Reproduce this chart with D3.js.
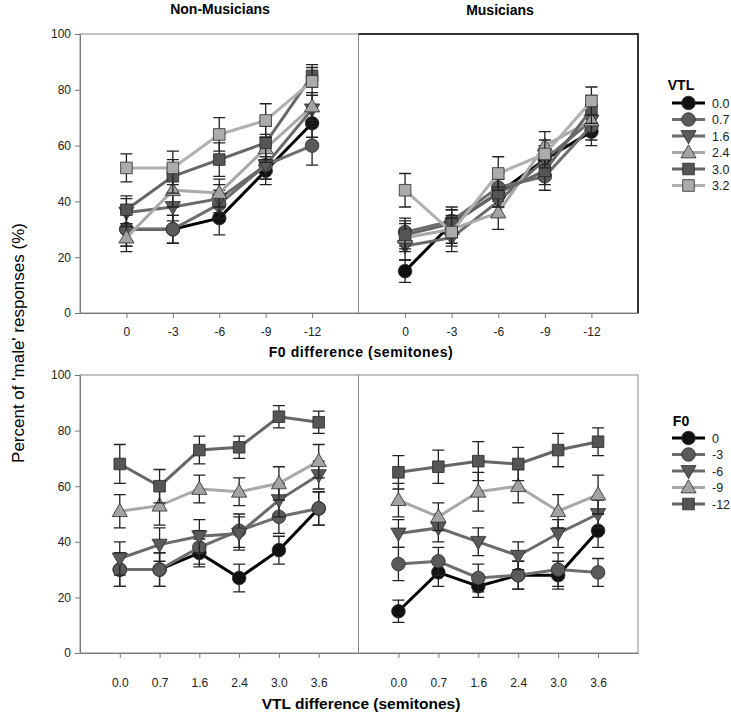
<!DOCTYPE html>
<html><head><meta charset="utf-8">
<script src="https://cdn.jsdelivr.net/npm/d3@7"></script>
<style>body{margin:0;background:#fff}svg{display:block}</style>
</head><body><svg id="c" width="731" height="713"></svg>
<script>
const f0Cats = ["0","-3","-6","-9","-12"];
const vtlCats = ["0.0","0.7","1.6","2.4","3.0","3.6"];
const vtlSeries = ["0.0","0.7","1.6","2.4","3.0","3.2"];
const f0Series = ["0","-3","-6","-9","-12"];
const yTicks = [0,20,40,60,80,100];

const topNonMus = [[30,30,34,51,68],[30,30,39,53,60],[36,38,41,53,73],[27,44,43,59,74],[37,49,55,61,85],[52,52,64,69,83]];
const topNonMusErr = [[6,5,6,5,5],[6,5,5,5,7],[5,5,5,5,5],[5,6,5,5,5],[5,6,6,6,4],[5,6,6,6,5]];
const topMus = [[15,32,43,55,65],[29,33,45,49,67],[24,27,40,55,69],[27,30,36,60,69],[28,32,43,51,73],[44,29,50,57,76]];
const topMusErr = [[4,5,5,5,5],[5,5,5,5,5],[5,5,5,5,5],[5,5,6,5,5],[5,5,5,5,5],[6,5,6,5,5]];
const botNonMus = [[30,30,36,27,37,52],[30,30,38,44,49,52],[34,39,42,43,55,64],[51,53,59,58,61,69],[68,60,73,74,85,83]];
const botNonMusErr = [[6,6,5,5,5,6],[6,6,6,6,6,6],[6,6,6,6,6,5],[6,7,5,5,6,6],[7,6,5,4,4,4]];
const botMus = [[15,29,24,28,28,44],[32,33,27,28,30,29],[43,45,40,35,43,50],[55,49,58,60,51,57],[65,67,69,68,73,76]];
const botMusErr = [[4,5,4,5,5,6],[6,5,5,5,6,5],[5,5,5,5,5,5],[6,5,7,6,6,7],[6,6,7,6,6,5]];

const vtlStyle = [
  {shape:"circle", fill:"#111", line:"#000"},
  {shape:"circle", fill:"#5a5a5a", line:"#6e6e6e"},
  {shape:"tdown", fill:"#5a5a5a", line:"#6a6a6a"},
  {shape:"tup", fill:"#a3a3a3", line:"#a8a8a8"},
  {shape:"square", fill:"#555", line:"#666"},
  {shape:"square", fill:"#ababab", line:"#b0b0b0"}
];
const f0Style = [vtlStyle[0], vtlStyle[1], vtlStyle[2], vtlStyle[3], vtlStyle[4]];

const svg = d3.select("#c");
const FONT = "'Liberation Sans', Arial, sans-serif";
const NARROW = "'Liberation Sans Narrow', 'Liberation Sans', Arial, sans-serif";

const L = 80, M = 358.5, R = 638;

function symbolPath(shape){
  const t = {circle:d3.symbolCircle, square:d3.symbolSquare, tdown:d3.symbolTriangle, tup:d3.symbolTriangle}[shape];
  const size = {circle:145, square:135, tdown:100, tup:100}[shape];
  return d3.symbol(t, size)();
}
function drawMarker(g, shape, x, y, fill){
  g.append("path").attr("d", symbolPath(shape))
    .attr("transform", `translate(${x},${y})` + (shape==="tdown" ? " rotate(180)" : "") + (shape==="tup"||shape==="tdown" ? " translate(0,1)":""))
    .attr("fill", fill).attr("stroke","#2a2a2a").attr("stroke-width",0.8);
}

function panel(x0, x1, y0, y100, cats, data, errs, styles, opts){
  const x = d3.scalePoint().domain(cats).range([x0, x1]).padding(1);
  const y = d3.scaleLinear().domain([0,100]).range([y0, y100]);
  const g = svg.append("g");
  g.append("rect").attr("x",x0).attr("y",y100).attr("width",x1-x0).attr("height",y0-y100)
    .attr("fill","none").attr("stroke","#8a8a8a").attr("stroke-width",1);
  if (opts.thick){
    g.append("path").attr("d",`M${x0},${y100}H${x1}V${y0}`).attr("fill","none").attr("stroke","#333").attr("stroke-width",2);
  }
  const ax = g.append("g").attr("transform",`translate(0,${y0})`)
    .call(d3.axisBottom(x).tickSize(5).tickPadding(opts.pad).tickSizeOuter(0));
  ax.select(".domain").attr("stroke","#777");
  ax.selectAll(".tick line").attr("stroke","#777");
  ax.selectAll("text").attr("font-family", NARROW).attr("font-size",12).attr("fill","#222");
  if (opts.yAxis){
    const ay = g.append("g").attr("transform",`translate(${x0},0)`)
      .call(d3.axisLeft(y).tickValues(yTicks).tickSize(5).tickPadding(4).tickSizeOuter(0));
    ay.select(".domain").attr("stroke","#777");
    ay.selectAll(".tick line").attr("stroke","#777");
    ay.selectAll("text").attr("font-family", NARROW).attr("font-size",12).attr("fill","#222");
  }
  const line = d3.line().x((d,i)=>x(cats[i])).y(d=>y(d));
  data.forEach((s, si) => {
    const st = styles[si];
    const sg = g.append("g");
    sg.append("path").attr("d", line(s)).attr("fill","none").attr("stroke", st.line).attr("stroke-width",3);
    s.forEach((v,i) => {
      const e = errs[si][i], cx = x(cats[i]);
      const yt = y(v+e), yb = y(v-e);
      sg.append("path").attr("d",`M${cx},${yt}V${yb}M${cx-6},${yt}H${cx+6}M${cx-6},${yb}H${cx+6}`)
        .attr("stroke","#222").attr("stroke-width",1.3).attr("fill","none");
    });
    s.forEach((v,i) => drawMarker(sg, st.shape, x(cats[i]), y(v), st.fill));
  });
}

panel(L, M, 313, 34, f0Cats, topNonMus, topNonMusErr, vtlStyle, {yAxis:true, pad:9});
panel(M, R, 313, 34, f0Cats, topMus, topMusErr, vtlStyle, {thick:true, pad:9});
panel(L, M, 653, 375, vtlCats, botNonMus, botNonMusErr, f0Style, {yAxis:true, pad:20});
panel(M, R, 653, 375, vtlCats, botMus, botMusErr, f0Style, {pad:20});

svg.append("text").attr("x",220).attr("y",14).attr("text-anchor","middle")
  .attr("font-family",NARROW).attr("font-weight","bold").attr("font-size",14).text("Non-Musicians");
svg.append("text").attr("x",500).attr("y",15).attr("text-anchor","middle")
  .attr("font-family",NARROW).attr("font-weight","bold").attr("font-size",14).text("Musicians");
svg.append("text").attr("x",361).attr("y",357).attr("text-anchor","middle")
  .attr("font-family",FONT).attr("font-weight","bold").attr("font-size",14).attr("letter-spacing",0.6).text("F0 difference (semitones)");
svg.append("text").attr("x",361).attr("y",709).attr("text-anchor","middle")
  .attr("font-family",NARROW).attr("font-weight","bold").attr("font-size",15.5).text("VTL difference (semitones)");
svg.append("text").attr("transform","translate(24,343) rotate(-90)").attr("text-anchor","middle")
  .attr("font-family",FONT).attr("font-size",17).text("Percent of 'male' responses (%)");

function legend(title, labels, styles, ty, ry){
  const g = svg.append("g");
  g.append("text").attr("x",681).attr("y",ty).attr("text-anchor","middle")
    .attr("font-family",NARROW).attr("font-weight","bold").attr("font-size",14).text(title);
  labels.forEach((lab,i) => {
    const yy = ry + i*16.5;
    g.append("line").attr("x1",672).attr("x2",705).attr("y1",yy).attr("y2",yy)
      .attr("stroke",styles[i].line).attr("stroke-width",3);
    drawMarker(g, styles[i].shape, 688.5, yy, styles[i].fill);
    g.append("text").attr("x",712).attr("y",yy+4.5).attr("font-family",FONT).attr("font-size",12.5).attr("fill","#222").text(lab);
  });
}
legend("VTL", vtlSeries, vtlStyle, 90, 103);
legend("F0", f0Series, f0Style, 426, 438);
</script></body></html>
